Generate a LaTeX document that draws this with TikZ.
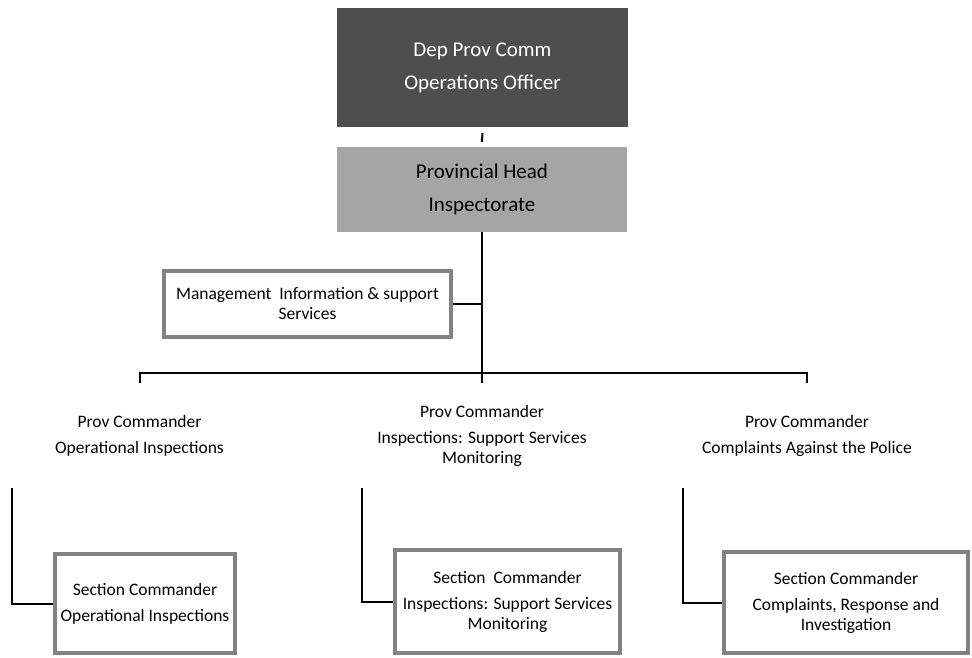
\documentclass[tikz,border=0pt]{standalone}
\usepackage{fontspec}
\setmainfont{Carlito}
\definecolor{darkfill}{RGB}{78,78,78}
\definecolor{midfill}{RGB}{165,165,165}
\definecolor{framec}{RGB}{130,130,130}
\begin{document}
\begin{tikzpicture}[x=1pt,y=-1pt,
  line/.style={draw=black,line width=2pt},
  thinline/.style={draw=black,line width=1.2pt},
  bigtext/.style={font=\fontsize{21}{25}\selectfont,align=center,inner sep=0pt},
  smalltext/.style={font=\fontsize{17.5}{20}\selectfont,align=center,inner sep=0pt},
  darkbox/.style={bigtext,fill=darkfill,text=white},
  midbox/.style={bigtext,fill=midfill,text=black},
  whitebox/.style={smalltext,fill=white,draw=framec,line width=3.5pt},
  ghost/.style={smalltext}
]
\useasboundingbox (0,0) rectangle (972,657);
\node[darkbox,minimum width=291,minimum height=119] (dep) at (482.5,67.5) {Dep Prov Comm\\[8pt]Operations Officer};
\node[midbox,minimum width=290,minimum height=85] (pih) at (482,189.5) {Provincial Head\\[8pt]Inspectorate};
\node[whitebox,minimum width=287,minimum height=66] (mis) at (307.5,304) {Management\ \ Information \& support\\Services};
\node[ghost,minimum width=255,minimum height=105] (pc1) at (139.5,435.5) {Prov Commander\\[6pt]Operational Inspections};
\node[ghost,minimum width=240,minimum height=105] (pc2) at (482,435.5) {Prov Commander\\[6pt]Inspections: Support Services\\Monitoring};
\node[ghost,minimum width=248,minimum height=105] (pc3) at (807,435.5) {Prov Commander\\[6pt]Complaints Against the Police};
\node[whitebox,minimum width=180,minimum height=99] (sc1) at (145,603.5) {Section Commander\\[6pt]Operational Inspections};
\node[whitebox,minimum width=225,minimum height=103] (sc2) at (507.5,601.5) {Section\ \ Commander\\[6pt]Inspections: Support Services\\Monitoring};
\node[whitebox,minimum width=244,minimum height=101] (sc3) at (846,602.5) {Section Commander\\[6pt]Complaints, Response and\\Investigation};
\coordinate (j) at (482,373);
\draw[line,shorten <=6pt,shorten >=5pt] (dep.south) -- (pih.north);
\draw[line] (pih.south) -- (j);
\draw[thinline] (mis.east) -- (mis.east -| j);
\draw[line] (pc1.north) -- (pc1.north |- j) -- (pc3.north |- j) -- (pc3.north);
\draw[line] (j) -- (pc2.north);
\draw[line] (pc1.south west) |- (sc1.west);
\draw[line] (pc2.south west) |- (sc2.west);
\draw[line] (pc3.south west) |- (sc3.west);
\end{tikzpicture}
\end{document}
